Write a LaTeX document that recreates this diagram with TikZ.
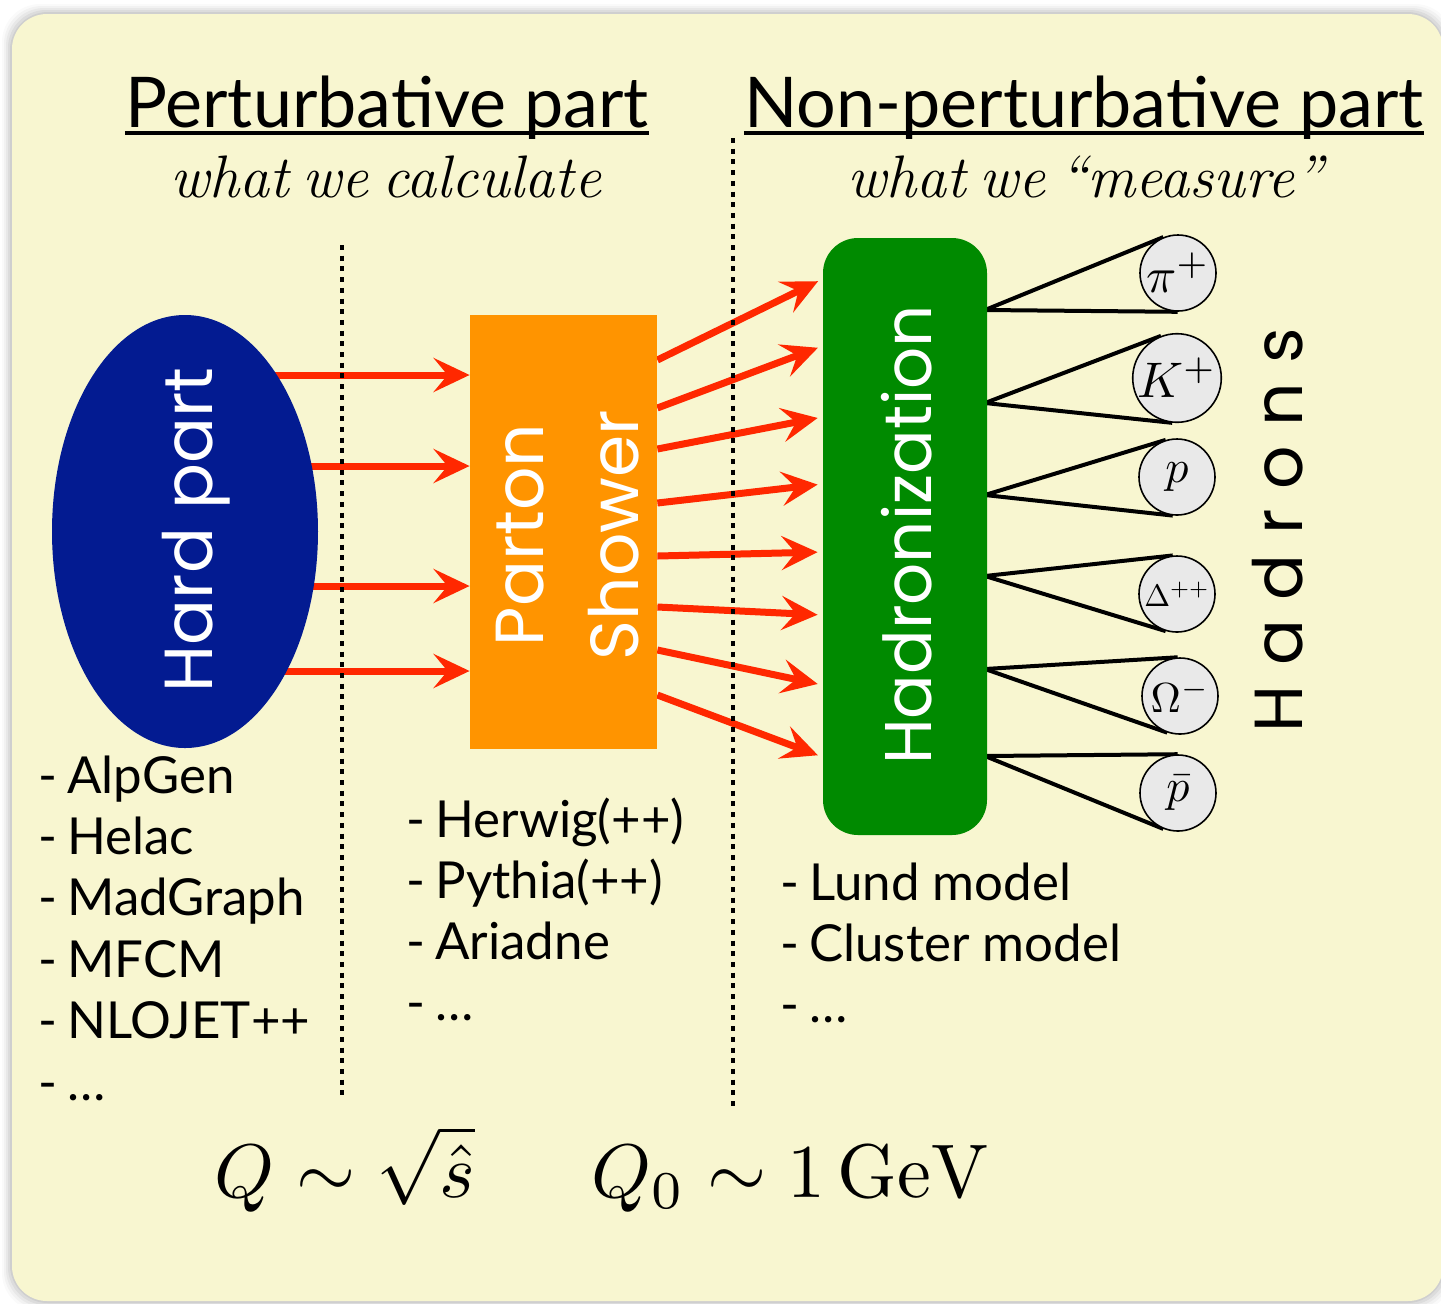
\documentclass[tikz,border=0pt]{standalone}
\usepackage{fontspec}
\usepackage{graphicx}
\usetikzlibrary{shapes.geometric,arrows.meta,calc}
\newfontfamily\gillf{Lato}
\newfontfamily\geof{Poppins}
\newfontfamily\itf{Latin Modern Roman}[WordSpace=0.65]
\definecolor{bgyellow}{RGB}{248,246,208}
\definecolor{hardblue}{RGB}{3,27,145}
\definecolor{psorange}{RGB}{255,148,0}
\definecolor{hadgreen}{RGB}{0,138,0}
\definecolor{arrred}{RGB}{255,40,0}
\definecolor{hadgray}{RGB}{233,233,233}
\pgfdeclarelayer{paper}
\pgfdeclarelayer{background}
\pgfsetlayers{paper,background,main}
\begin{document}
\begin{tikzpicture}[x=0.5pt,y=-0.5pt,
  title/.style={font=\gillf\fontsize{35}{42}\selectfont, inner sep=0, anchor=base},
  subt/.style={font=\itf\itshape\fontsize{30}{36}\selectfont, inner sep=0, anchor=base},
  listitem/.style={font=\gillf\fontsize{25.5}{30}\selectfont, inner sep=0, anchor=base west},
  boxlabel/.style={font=\geof\fontsize{34}{40}\selectfont, text=white, inner sep=0, rotate=90, anchor=base},
  dotline/.style={line width=2.3pt, dash pattern=on 2.5pt off 2.85pt},
  hline/.style={line width=2pt},
  redarrow/.style={draw=arrred, line width=3.5pt, -{Stealth[length=18pt,width=17pt,inset=7pt]}},
  mathlbl/.style={inner sep=0, anchor=base},
  hadron/.style={circle, draw=black, line width=0.8pt, fill=hadgray, minimum size=38pt, inner sep=0}
]
\useasboundingbox (0,0) rectangle (1441,1303);
\begin{pgfonlayer}{paper}
\clip (0,0) rectangle (1441,1303);
\fill[white] (0,0) rectangle (1441,1303);
\foreach \d/\o in {10/0.02,8/0.03,6/0.04,4/0.05,2/0.06}
  \fill[black,opacity=\o,rounded corners=19pt] (12-\d,14-\d) rectangle (1443+\d,1301+\d);
\fill[bgyellow,rounded corners=17.5pt] (12,14) rectangle (1443,1301);
\end{pgfonlayer}

% titles
\node[title] (t1) at (387,127) {Perturbative part};
\node[title] (t2) at (1084,127) {Non-perturbative part};
\draw[line width=2pt] ($(t1.base west)+(0,6)$) -- ($(t1.base east)+(0,6)$);
\draw[line width=2pt] ($(t2.base west)+(0,6)$) -- ($(t2.base east)+(0,6)$);
\node[subt] (s1) at (386,197) {what we calculate};
\node[subt] (s2) at (1085,197) {what we “measure”};

% dotted separators
\draw[dotline] (342,245) -- (342,1100);
\draw[dotline] (733,138) -- (733,1110);

% main blocks
\node[ellipse, fill=hardblue, minimum width=133pt, minimum height=216.5pt, inner sep=0] (hard) at (185,531.5) {};
\node[boxlabel] (hardlbl) at (212,530) {Hard part};
\node[fill=psorange, minimum width=93.5pt, minimum height=217pt, inner sep=0] (ps) at (563.5,532) {};
\node[boxlabel] (pslbl1) at (543,535) {Parton};
\node[boxlabel] (pslbl2) at (638,535) {Shower};
\node[fill=hadgreen, rounded corners=17.5pt, minimum width=82pt, minimum height=298.5pt, inner sep=0] (hz) at (905,536.5) {};
\node[boxlabel, font=\geof\fontsize{33}{40}\selectfont] (hzlbl) at (931,535) {Hadronization};
\node[font=\geof\fontsize{34}{40}\selectfont, inner sep=0, rotate=90, anchor=base] (hadrons) at (1302,530)
  {\makebox[202.5pt][s]{H\hfill a\hfill d\hfill r\hfill o\hfill n\hfill s}};

% hadrons
\node[hadron] (h1) at (1178,273) {\scalebox{2.5}{$\pi^+$}};
\node[hadron] (h2) at (1177,378) {\scalebox{2.5}{$K^+$}};
\node[hadron] (h3) at (1177,477) {\scalebox{2.3}{$p$}};
\node[hadron] (h4) at (1177,594) {\scalebox{1.55}{$\Delta^{++}$}};
\node[hadron] (h5) at (1180,696) {\scalebox{2.1}{$\Omega^-$}};
\node[hadron] (h6) at (1178,793) {\scalebox{2.3}{$\bar p$}};

% helper levels
\coordinate (a1) at (0,375);
\coordinate (a2) at (0,466);
\coordinate (a3) at (0,586);
\coordinate (a4) at (0,671);
\foreach \i/\ys/\yt in {1/360/279,2/408/346,3/449/417,4/503/484,5/556/552,6/607/615,7/650/685,8/695/757}{
  \coordinate (s\i) at (0,\ys);
  \coordinate (e\i) at (0,\yt);
}
\foreach \i/\y in {1/310,2/403,3/495,4/576,5/669,6/756}
  \coordinate (o\i) at (985,\y);

\begin{pgfonlayer}{background}
\foreach \i in {1,...,4}
  \draw[redarrow] (hard.center |- a\i) -- (ps.west |- a\i);
\foreach \i in {1,...,8}
  \draw[redarrow, shorten >=2.5pt] (ps.east |- s\i) -- (hz.west |- e\i);
\foreach \i in {1,...,6}{
  \draw[hline] (o\i) -- (tangent cs:node=h\i,point={(o\i)},solution=1);
  \draw[hline] (o\i) -- (tangent cs:node=h\i,point={(o\i)},solution=2);
}
\end{pgfonlayer}

% lists
\foreach \t [count=\i] in {AlpGen,Helac,MadGraph,MFCM,NLOJET++,…}
  \node[listitem] (la\i) at (38,{793+61.4*(\i-1)}) {-\hspace{5pt}\t};
\foreach \t [count=\i] in {Herwig(++),Pythia(++),Ariadne,…}
  \node[listitem] (lb\i) at (406,{837+61*(\i-1)}) {-\hspace{5pt}\t};
\foreach \t [count=\i] in {Lund model,Cluster model,…}
  \node[listitem] (lc\i) at (780,{900+61*(\i-1)}) {-\hspace{5pt}\t};

% scales
\node[mathlbl] (q1) at (345,1197) {\scalebox{3.8}{$Q\sim\sqrt{\hat s}$}};
\node[mathlbl] (q2) at (790,1197) {\scalebox{3.8}{$Q_0\sim 1\,\mathrm{GeV}$}};
\end{tikzpicture}
\end{document}
